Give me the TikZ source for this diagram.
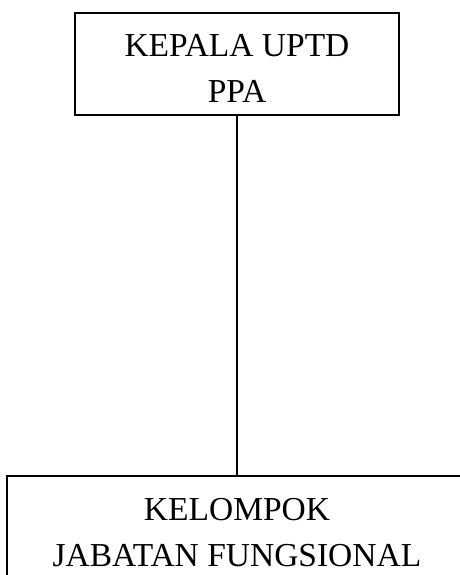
\documentclass[tikz,border=0pt]{standalone}
\usepackage{fontspec}
\setmainfont{Liberation Serif}
\newcommand{\lowtext}[1]{\raisebox{-6pt}[\height][\depth]{\begin{tabular}{@{}c@{}}#1\end{tabular}}}
\begin{document}
\begin{tikzpicture}[x=1pt,y=-1pt,
  orgbox/.style={draw=black, line width=1.4pt, align=center, inner sep=0pt,
    font=\fontsize{33.5}{46}\selectfont},
  link/.style={draw=black, line width=1.4pt}]
\useasboundingbox (0,0) rectangle (460,575);
\clip (0,0) rectangle (460,575);
\fill[white] (0,0) rectangle (460,575);
\node[orgbox, minimum width=324pt, minimum height=102pt] (kepala) at (237,64) {\lowtext{KEPALA UPTD\\PPA}};
\node[orgbox, minimum width=460pt, minimum height=104pt] (kelompok) at (237,528) {\lowtext{KELOMPOK\\JABATAN FUNGSIONAL}};
\draw[link] (kepala.south) -- (kelompok.north);
\end{tikzpicture}
\end{document}
